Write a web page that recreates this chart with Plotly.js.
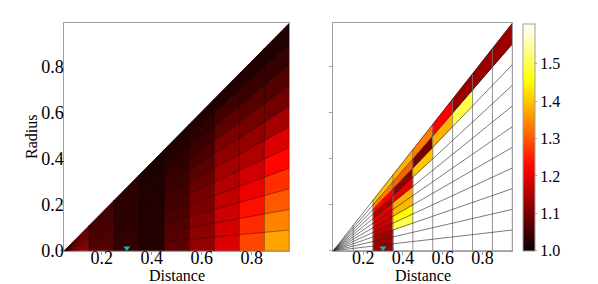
<!DOCTYPE html>
<html><head><meta charset="utf-8">
<script src="https://cdn.plot.ly/plotly-3.0.1.min.js"></script>
<style>html,body{margin:0;padding:0;background:#fff}#chart{width:598px;height:284px}</style>
</head><body><div id="chart"></div>
<script>
// ---- data ----
const distanceEdges = [0.05, 0.15, 0.25, 0.35, 0.45, 0.55, 0.65, 0.75, 0.85, 0.95];
// radius edges as a fraction of (distance - first distance edge)
const radiusFractionEdges = [0, 0.1, 0.2, 0.3, 0.4, 0.5, 0.6, 0.7, 0.8, 0.9, 1.0, 1.1];
// left panel: one array per distance bin, radius bins bottom -> top
const leftD01 = [1.14, 1.135, 1.13, 1.125, 1.12, 1.115, 1.11, 1.105, 1.10, 1.10, 1.10];
const leftD02 = [1.075, 1.072, 1.07, 1.068, 1.066, 1.064, 1.062, 1.06, 1.058, 1.056, 1.055];
const leftD03 = [1.04, 1.038, 1.036, 1.035, 1.034, 1.033, 1.032, 1.031, 1.03, 1.03, 1.03];
const leftD04 = [1.025, 1.024, 1.023, 1.022, 1.022, 1.021, 1.02, 1.02, 1.019, 1.018, 1.017];
const leftD05 = [1.075, 1.07, 1.065, 1.06, 1.055, 1.05, 1.045, 1.04, 1.033, 1.027, 1.02];
const leftD06 = [1.125, 1.12, 1.112, 1.104, 1.097, 1.085, 1.072, 1.058, 1.045, 1.032, 1.022];
const leftD07 = [1.19, 1.182, 1.175, 1.165, 1.153, 1.139, 1.122, 1.104, 1.076, 1.049, 1.024];
const leftD08 = [1.285, 1.26, 1.235, 1.205, 1.18, 1.15, 1.125, 1.097, 1.07, 1.042, 1.022];
const leftD09 = [1.37, 1.34, 1.30, 1.265, 1.225, 1.19, 1.14, 1.095, 1.065, 1.04, 1.02];
// right panel: only some cells have values (null = empty)
const rightD01 = [null, null, null, null, null, null, null, null, null, null, null];
const rightD02 = [null, null, null, null, null, null, null, null, null, null, null];
const rightD03 = [1.13, 1.135, 1.14, 1.16, 1.175, 1.185, 1.2, 1.15, 1.22, 1.33, 1.40];
const rightD04 = [null, null, null, 1.50, 1.45, 1.39, 1.38, 1.20, 1.12, 1.31, 1.38];
const rightD05 = [null, null, null, null, null, null, null, null, 1.40, 1.10, 1.335];
const rightD06 = [null, null, null, null, null, null, null, null, null, 1.38, 1.22];
const rightD07 = [null, null, null, null, null, null, null, null, null, 1.50, 1.13];
const rightD08 = [null, null, null, null, null, null, null, null, null, null, 1.13];
const rightD09 = [null, null, null, null, null, null, null, null, null, null, 1.13];
const markerDistance = [0.3];
const markerRadius = [0.012];
const colorMin = 1.0, colorMax = 1.607;
const colorTicks = [1.0, 1.1, 1.2, 1.3, 1.4, 1.5];
const xTicks = [0.2, 0.4, 0.6, 0.8];
const yTicks = [0.0, 0.2, 0.4, 0.6, 0.8];
const xTitle = 'Distance', yTitle = 'Radius';

const leftValues = [leftD01, leftD02, leftD03, leftD04, leftD05, leftD06, leftD07, leftD08, leftD09];
const rightValues = [rightD01, rightD02, rightD03, rightD04, rightD05, rightD06, rightD07, rightD08, rightD09];

// ---- matplotlib "hot" colormap ----
const hotScale = [[0, 'rgb(11,0,0)'], [0.365079, 'rgb(255,0,0)'], [0.746032, 'rgb(255,255,0)'], [1, 'rgb(255,255,255)']];
function hot(v) {
  let t = (v - colorMin) / (colorMax - colorMin);
  t = Math.max(0, Math.min(1, t));
  const r = t < 0.365079 ? 0.0416 + (1 - 0.0416) * t / 0.365079 : 1;
  const g = t < 0.365079 ? 0 : (t < 0.746032 ? (t - 0.365079) / (0.746032 - 0.365079) : 1);
  const b = t < 0.746032 ? 0 : (t - 0.746032) / (1 - 0.746032);
  return 'rgb(' + Math.round(r * 255) + ',' + Math.round(g * 255) + ',' + Math.round(b * 255) + ')';
}

const apex = distanceEdges[0];
const lastEdge = distanceEdges[distanceEdges.length - 1];
const topFrac = radiusFractionEdges[radiusFractionEdges.length - 1];
const rad = (x, f) => f * (x - apex);
const yMax = rad(lastEdge, topFrac);

function cellTraces(values, xa, ya) {
  const out = [];
  for (let i = 0; i < values.length; i++) {
    const xl = distanceEdges[i], xr = distanceEdges[i + 1];
    for (let k = 0; k < values[i].length; k++) {
      const v = values[i][k];
      if (v === null) continue;
      const f0 = radiusFractionEdges[k], f1 = radiusFractionEdges[k + 1];
      const c = hot(v);
      out.push({
        type: 'scatter', mode: 'lines', xaxis: xa, yaxis: ya,
        x: [xl, xr, xr, xl, xl],
        y: [rad(xl, f0), rad(xr, f0), rad(xr, f1), rad(xl, f1), rad(xl, f0)],
        fill: 'toself', fillcolor: c,
        line: {width: 0.8, color: c}, hoverinfo: 'skip', showlegend: false
      });
    }
  }
  return out;
}
function fanLines(xa, ya, color, width) {
  const x = [], y = [];
  radiusFractionEdges.forEach(f => { x.push(apex, lastEdge, null); y.push(0, rad(lastEdge, f), null); });
  return {type: 'scatter', mode: 'lines', xaxis: xa, yaxis: ya, x, y,
    line: {color, width}, hoverinfo: 'skip', showlegend: false};
}
function colLines(xa, ya, color, width) {
  const x = [], y = [];
  distanceEdges.forEach(d => { x.push(d, d, null); y.push(0, rad(d, topFrac), null); });
  return {type: 'scatter', mode: 'lines', xaxis: xa, yaxis: ya, x, y,
    line: {color, width}, hoverinfo: 'skip', showlegend: false};
}
function markerTrace(xa, ya) {
  return {type: 'scatter', mode: 'markers', xaxis: xa, yaxis: ya, x: markerDistance, y: markerRadius,
    marker: {symbol: 'triangle-down', size: 6, color: '#00bfbf', line: {width: 0}},
    hoverinfo: 'skip', showlegend: false, cliponaxis: true};
}

const fontFam = 'Liberation Serif';
const traces = [].concat(
  cellTraces(leftValues, 'x', 'y'),
  [fanLines('x', 'y', 'rgba(0,0,0,0.55)', 0.6), colLines('x', 'y', 'rgba(0,0,0,0.6)', 0.7), markerTrace('x', 'y')],
  cellTraces(rightValues, 'x2', 'y2'),
  [colLines('x2', 'y2', '#777', 0.8), fanLines('x2', 'y2', '#222', 0.6), markerTrace('x2', 'y2')],
  [{
    type: 'scatter', mode: 'markers', x: [null], y: [null], xaxis: 'x2', yaxis: 'y2',
    hoverinfo: 'skip', showlegend: false,
    marker: {color: [colorMin], cmin: colorMin, cmax: colorMax, colorscale: hotScale, showscale: true,
      colorbar: {x: 523.3 / 598, xanchor: 'left', y: 33.3 / 284, yanchor: 'bottom', len: 227.4 / 284, lenmode: 'fraction',
        thickness: 12, thicknessmode: 'pixels', outlinewidth: 1, outlinecolor: '#a0a0a0',
        tickvals: colorTicks, ticktext: colorTicks.map(v => v.toFixed(1)), ticks: 'outside', ticklen: 2, tickcolor: '#a0a0a0',
        tickfont: {family: fontFam, size: 16, color: '#000'}, xpad: 0, ypad: 0, bgcolor: 'rgba(0,0,0,0)'}}
  }]
);

const axisBase = {
  showline: true, mirror: true, linecolor: '#a0a0a0', linewidth: 1, showgrid: false, zeroline: false,
  ticks: 'outside', ticklen: 3, tickcolor: '#a0a0a0', tickfont: {family: fontFam, size: 18, color: '#000'}
};
const titleAnn = {yref: 'paper', x: 0.5, xanchor: 'center', y: 0, yanchor: 'bottom', yshift: 0, showarrow: false,
  borderpad: 0, borderwidth: 0, font: {family: fontFam, size: 16, color: '#000'}};
const layout = {
  width: 598, height: 284, margin: {l: 0, r: 0, t: 0, b: 0},
  paper_bgcolor: '#fff', plot_bgcolor: '#fff', showlegend: false,
  font: {family: fontFam, color: '#000'},
  xaxis: Object.assign({}, axisBase, {domain: [64.3 / 598, 289.3 / 598], range: [apex, lastEdge],
    tickvals: xTicks, ticktext: xTicks.map(v => v.toFixed(1)), ticklabelstandoff: -12}),
  yaxis: Object.assign({}, axisBase, {domain: [33.3 / 284, 260.7 / 284], range: [0, yMax],
    tickvals: yTicks, ticktext: yTicks.map(v => v.toFixed(1)), ticklabelstandoff: -7}),
  xaxis2: Object.assign({}, axisBase, {domain: [333.3 / 598, 512.3 / 598], range: [apex, lastEdge], anchor: 'y2',
    tickvals: xTicks, ticktext: xTicks.map(v => v.toFixed(1)), ticklabelstandoff: -12}),
  yaxis2: Object.assign({}, axisBase, {domain: [33.3 / 284, 260.7 / 284], range: [0, yMax], anchor: 'x2',
    tickvals: yTicks, showticklabels: false}),
  annotations: [
    Object.assign({}, titleAnn, {text: xTitle, xref: 'x domain'}),
    Object.assign({}, titleAnn, {text: xTitle, xref: 'x2 domain'}),
    {text: yTitle, xref: 'paper', yref: 'y domain', x: 31 / 598, xanchor: 'center', y: 0.5, yanchor: 'middle', textangle: -90, showarrow: false,
      font: {family: fontFam, size: 16, color: '#000'}}
  ]
};
Plotly.newPlot('chart', traces, layout, {staticPlot: true, displayModeBar: false});
</script></body></html>
